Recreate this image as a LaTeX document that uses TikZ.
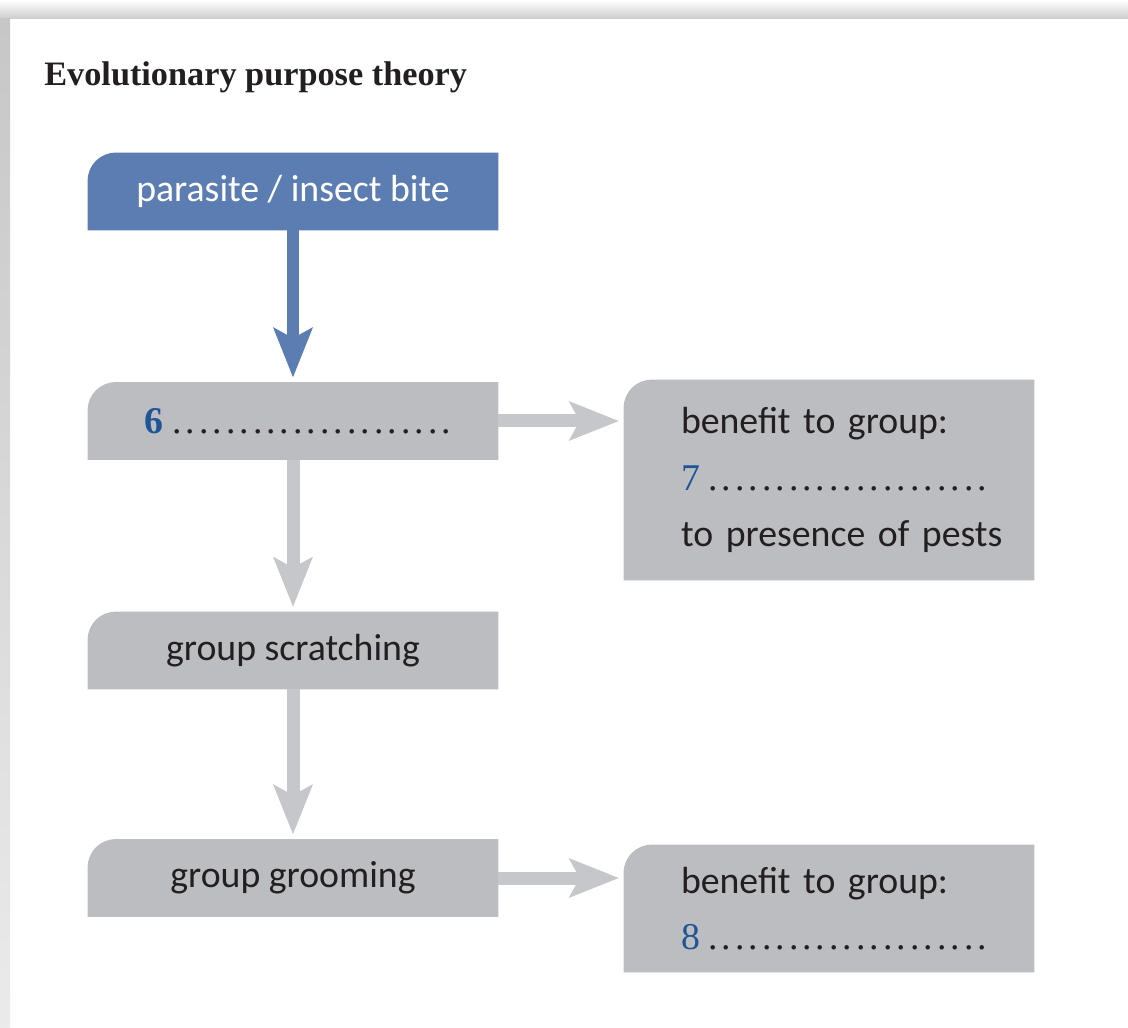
\documentclass[tikz,border=0pt]{standalone}
\usepackage{fontspec}
\setmainfont{Liberation Serif}
\setsansfont{Carlito}
\usetikzlibrary{arrows.meta,backgrounds}
\definecolor{tabblue}{HTML}{5B7DB1}
\definecolor{tabgrey}{HTML}{BCBDC1}
\definecolor{arrowgrey}{HTML}{C6C7CA}
\definecolor{numblue}{HTML}{1F5596}
\definecolor{inkgrey}{HTML}{231F20}
\newcommand{\qnum}[1]{{\rmfamily\color{numblue}#1}}
\newcommand{\dotline}{\hbox to 161pt{\rmfamily\xleaders\hbox to 7.6pt{\hss.\hss}\hfill}}
\tikzset{
  flowbox/.style={minimum width=8.2cm,minimum height=1.54cm,inner sep=0pt,text=inkgrey,
    font=\sffamily\fontsize{21.5}{32}\selectfont},
  flowleft/.style={flowbox,text width=7.2cm,align=left,
    execute at begin node={\leftskip=0.64cm}},
  flowarrow/.style={line width=0.26cm,arrowgrey,shorten >=0.1cm,
    -{Stealth[length=1cm 0,width=0.8cm 0,inset=0.22cm,line width=0pt]}},
  every picture/.style={line join=miter}
}

\begin{document}
\begin{tikzpicture}[x=2cm,y=2cm]
  \useasboundingbox (0,0) rectangle (11.28,-10.28);
  \shade[top color=white,bottom color=black!20] (0,0) rectangle (11.28,-0.19);
  \shade[top color=black!22,bottom color=black!8] (0,-0.19) rectangle (0.1,-10.28);

  \node[anchor=base west,inner sep=0pt,text=inkgrey,
    font=\rmfamily\bfseries\fontsize{19.5}{24}\selectfont] (title) at (0.44,-0.86)
    {Evolutionary purpose theory};

  \node[flowbox,text=white] (bite) at (2.93,-1.915) {parasite / insect bite};
  \node[flowleft] (six) at (2.93,-4.21) {\qnum{\bfseries 6}\,\dotline};
  \node[flowleft,minimum height=4cm] (seven) at (8.29,-4.80)
    {benefit to group:\\ \qnum{7}\,\dotline\\ to presence of pests};
  \node[flowbox] (scratch) at (2.93,-6.505) {group scratching};
  \node[flowbox] (groom) at (2.93,-8.78) {group grooming};
  \node[flowleft,minimum height=2.54cm] (eight) at (8.29,-9.085)
    {benefit to group:\\ \qnum{8}\,\dotline};

  % tabs: only the top left corner is rounded
  \begin{scope}[on background layer]
    \foreach \n/\c in {bite/tabblue,six/tabgrey,seven/tabgrey,scratch/tabgrey,
        groom/tabgrey,eight/tabgrey}
      \fill[\c] (\n.south west) -- ([yshift=-0.56cm]\n.north west)
        arc[start angle=180,end angle=90,radius=0.56cm] -- (\n.north east)
        -- (\n.south east) -- cycle;
  \end{scope}

  \draw[flowarrow,tabblue,line width=0.24cm] (bite.south) -- (six.north);
  \draw[flowarrow] (six.east) -- (six.east -| seven.west);
  \draw[flowarrow] (six.south) -- (scratch.north);
  \draw[flowarrow] (scratch.south) -- (groom.north);
  \draw[flowarrow] (groom.east) -- (groom.east -| eight.west);
\end{tikzpicture}
\end{document}
